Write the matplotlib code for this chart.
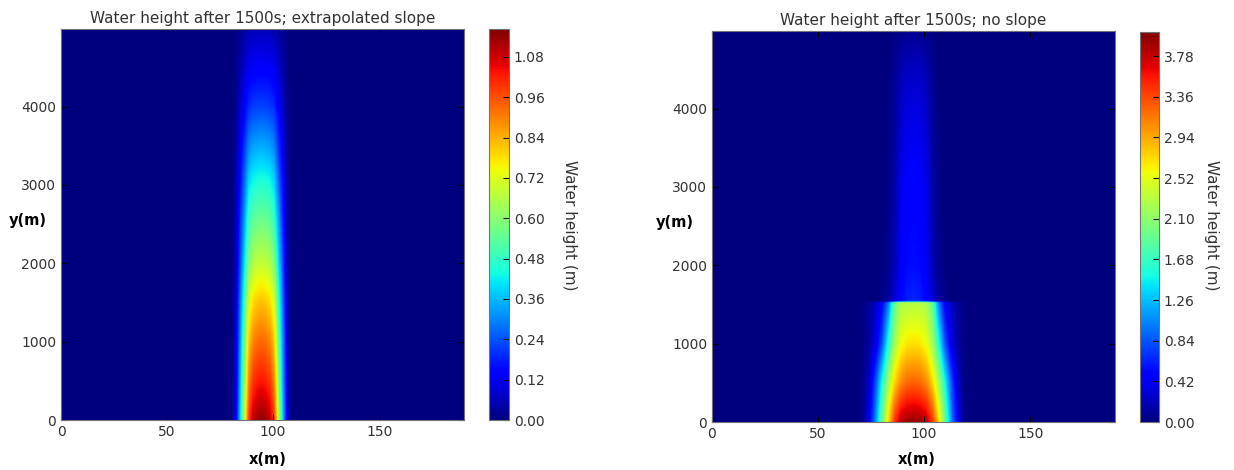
import numpy as np
import matplotlib.pyplot as plt

x_max = 190
y_max = 4990

# left panel: extrapolated slope
left_center_x = 94.5
left_y = [0, 500, 1000, 1500, 2000, 2500, 3000, 3500, 4000, 4500, 4990]
left_peak = [1.14, 1.03, 0.93, 0.82, 0.68, 0.57, 0.46, 0.34, 0.22, 0.13, 0.06]
left_r = [0, 2, 4, 6, 8, 10, 12, 14]
left_shape = [1.0, 0.99, 0.96, 0.87, 0.6, 0.35, 0.1, 0.0]
left_vmax = 1.163
left_ticks = [0.0, 0.12, 0.24, 0.36, 0.48, 0.60, 0.72, 0.84, 0.96, 1.08]

# right panel: no slope (cross sections read at distance r from the centre)
right_center_x = 95.0
right_y = [0, 500, 1000, 1500, 1520, 1540, 2000, 3000, 4000, 4500, 4990]
right_r = [0, 3, 6, 9, 12, 15, 18, 21, 24, 27]
right_h = [
    [3.95, 3.92, 3.82, 3.45, 2.7, 1.9, 1.05, 0.4, 0.05, 0.0],
    [3.25, 3.22, 3.08, 2.75, 2.2, 1.5, 0.8, 0.25, 0.03, 0.0],
    [2.70, 2.68, 2.55, 2.20, 1.55, 0.8, 0.35, 0.12, 0.02, 0.0],
    [2.30, 2.30, 2.25, 1.90, 1.0, 0.45, 0.25, 0.10, 0.03, 0.0],
    [2.30, 2.30, 2.25, 1.90, 1.0, 0.45, 0.25, 0.10, 0.03, 0.0],
    [0.65, 0.62, 0.50, 0.30, 0.12, 0.04, 0.0, 0.0, 0.0, 0.0],
    [0.55, 0.53, 0.42, 0.20, 0.06, 0.01, 0.0, 0.0, 0.0, 0.0],
    [0.50, 0.48, 0.38, 0.15, 0.04, 0.0, 0.0, 0.0, 0.0, 0.0],
    [0.35, 0.33, 0.26, 0.10, 0.02, 0.0, 0.0, 0.0, 0.0, 0.0],
    [0.24, 0.23, 0.18, 0.07, 0.01, 0.0, 0.0, 0.0, 0.0, 0.0],
    [0.06, 0.06, 0.04, 0.02, 0.0, 0.0, 0.0, 0.0, 0.0, 0.0],
]
right_vmax = 4.03
right_ticks = [0.0, 0.42, 0.84, 1.26, 1.68, 2.10, 2.52, 2.94, 3.36, 3.78]


def raster(xc, r, ys, rows):
    # resample the read cross sections onto a pixel grid for imshow
    gx = np.linspace(0, x_max, 800)
    gy = np.linspace(0, y_max, 800)
    dist = np.abs(gx - xc)
    across = np.array([np.interp(dist, r, row, right=0) for row in rows])
    return np.array([np.interp(gy, ys, col) for col in across.T]).T


W, H = 1234, 470
fig = plt.figure(figsize=(W / 100, H / 100), dpi=100)
gray = '#333333'


def panel(box, cbox, Z, vmax, ticks, title, ylab_xy, xlab_xy, clab_xy):
    ax = fig.add_axes([box[0] / W, 1 - box[3] / H, (box[2] - box[0]) / W, (box[3] - box[1]) / H])
    m = ax.imshow(Z, origin='lower', extent=[0, x_max, 0, y_max], aspect='auto',
                  cmap='jet', vmin=0, vmax=vmax, interpolation='bilinear')
    ax.set_xlim(0, x_max)
    ax.set_ylim(0, y_max)
    ax.set_xticks([0, 50, 100, 150])
    ax.set_yticks([0, 1000, 2000, 3000, 4000])
    ax.tick_params(direction='in', top=True, right=True, length=4, labelsize=10,
                   labelcolor=gray, color='k')
    for s in ax.spines.values():
        s.set_edgecolor('0.45')
    ax.set_title(title, fontsize=11, color=gray, pad=4)
    cax = fig.add_axes([cbox[0] / W, 1 - cbox[3] / H, (cbox[2] - cbox[0]) / W, (cbox[3] - cbox[1]) / H])
    cb = fig.colorbar(m, cax=cax, ticks=ticks)
    cb.ax.yaxis.set_major_formatter('{x:.2f}')
    cb.ax.tick_params(direction='in', length=4, labelsize=10, labelcolor=gray)
    cb.outline.set_edgecolor('0.45')
    fig.text(clab_xy[0] / W, 1 - clab_xy[1] / H, 'Water height (m)', rotation=270,
             ha='center', va='center', fontsize=11, color=gray)
    lab = dict(fontsize=10.5, fontweight='bold', family=['Liberation Sans Narrow', 'DejaVu Sans'],
               ha='center', va='center')
    fig.text(ylab_xy[0] / W, 1 - ylab_xy[1] / H, 'y(m)', **lab)
    fig.text(xlab_xy[0] / W, 1 - xlab_xy[1] / H, 'x(m)', **lab)


lz = raster(left_center_x, left_r, left_y, np.outer(left_peak, left_shape))
panel((61, 29, 464, 420), (489, 29, 509, 420), lz, left_vmax, left_ticks,
      'Water height after 1500s; extrapolated slope', (28, 220), (268, 459), (570, 225))

rz = raster(right_center_x, right_r, right_y, right_h)
panel((712, 31, 1115, 422), (1140, 32, 1159, 422), rz, right_vmax, right_ticks,
      'Water height after 1500s; no slope', (675, 222), (917, 459), (1211, 225))

fig.savefig('out.png', dpi=100)
